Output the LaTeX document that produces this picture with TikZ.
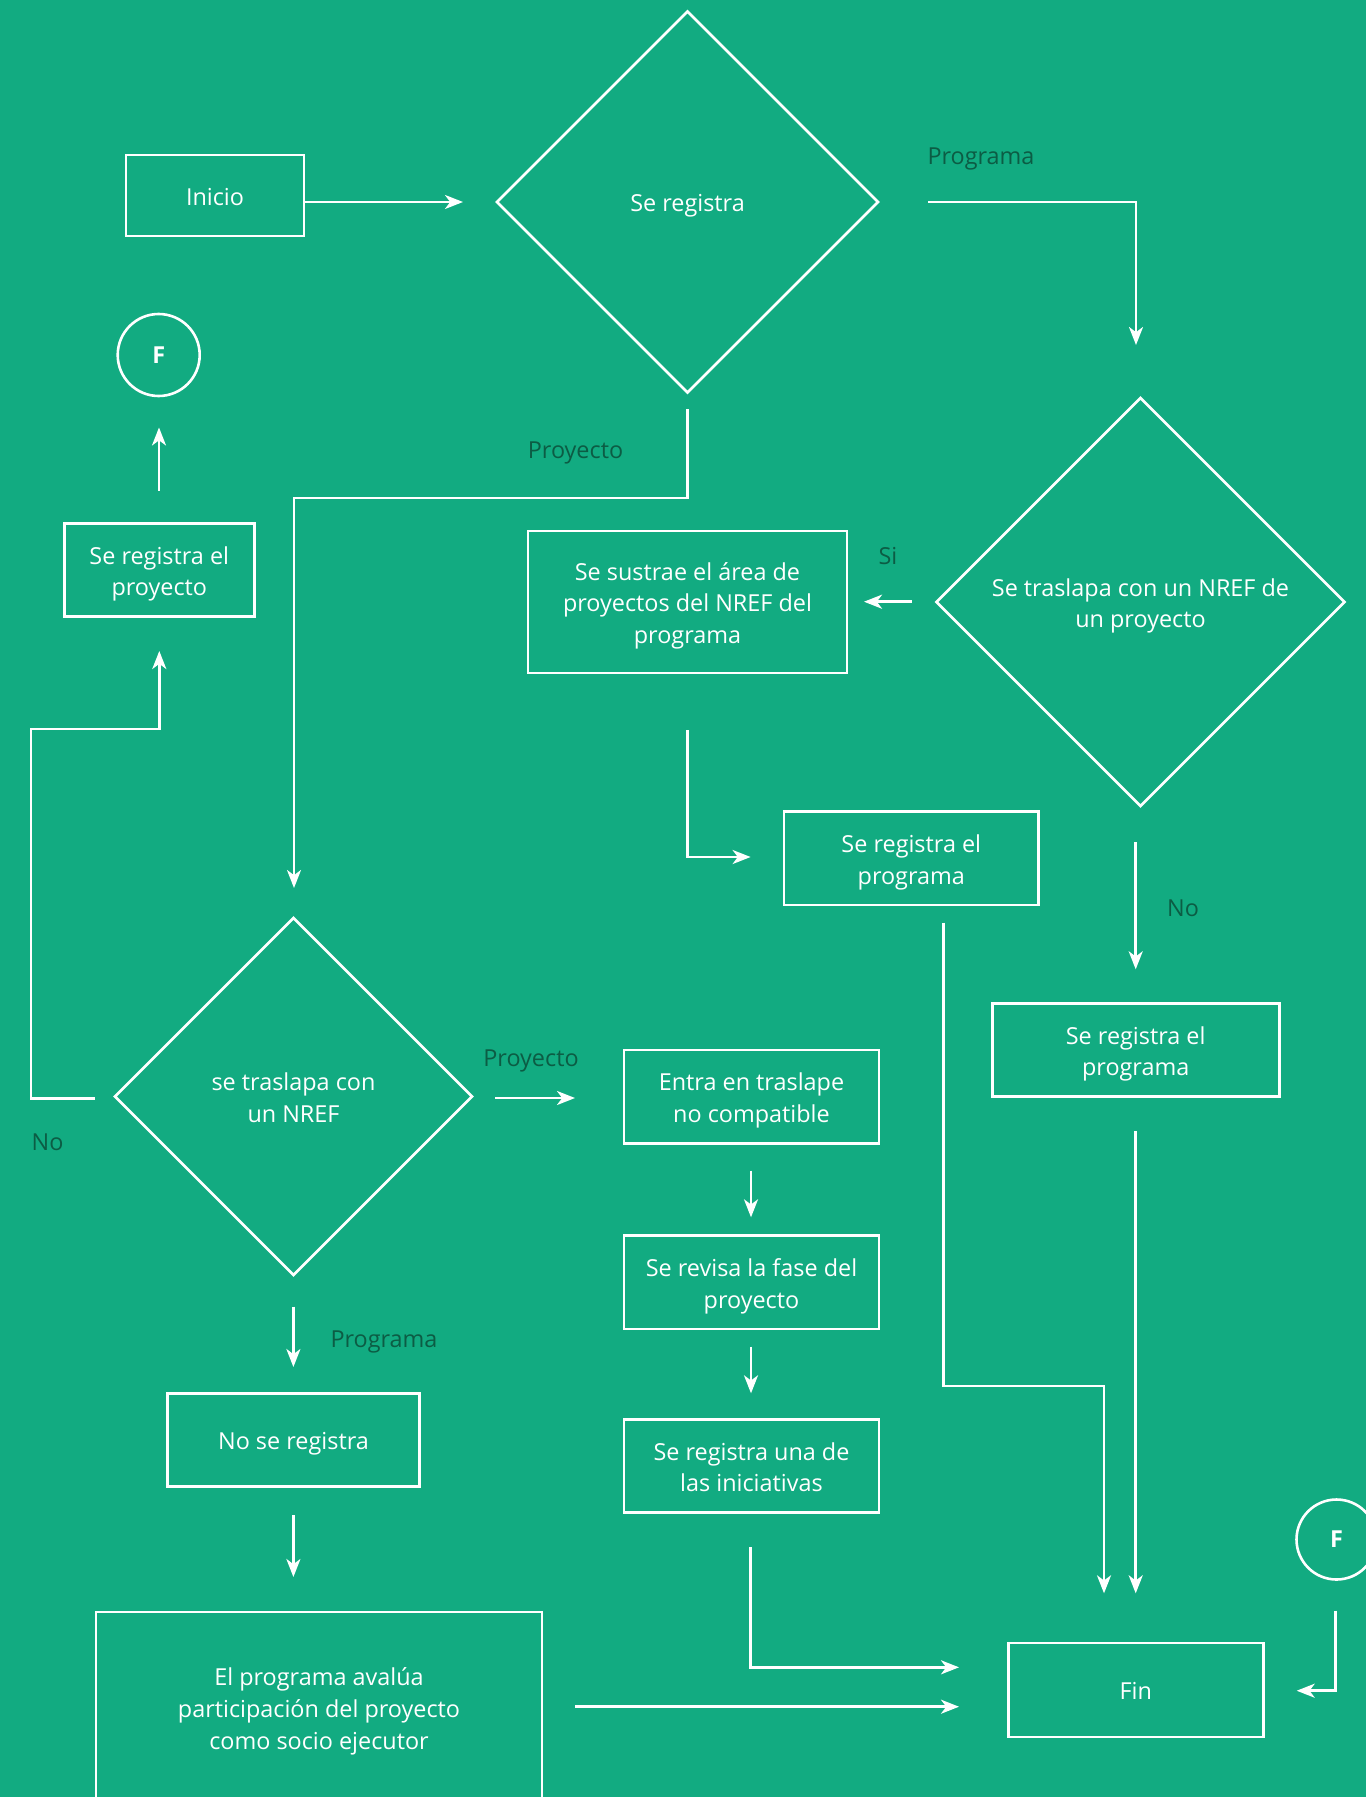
\documentclass[tikz,border=0pt]{standalone}
\usepackage{fontspec}
\setmainfont{Open Sans}
\usetikzlibrary{shapes.geometric,arrows.meta}
\definecolor{bg}{RGB}{18,171,129}
\definecolor{lbl}{RGB}{12,92,68}
\newcommand\hs{\rule{0pt}{13.1pt}}
\newcommand\ds{\rule[-3.2pt]{0pt}{3.2pt}}
\begin{document}
\begin{tikzpicture}[x=0.5pt,y=-0.5pt,
  every node/.style={font=\fontsize{11.7}{15.9}\selectfont, text=white},
  box/.style={draw=white, line width=1.3pt, align=center, inner sep=0pt},
  dia/.style={draw=white, line width=1.3pt, diamond, aspect=1, align=center, inner sep=0pt},
  circ/.style={draw=white, line width=1.3pt, circle, inner sep=0pt, font=\fontsize{11.7}{15.9}\selectfont\bfseries},
  lab/.style={text=lbl, inner sep=0pt},
  conn/.style={draw=white, line width=1.3pt},
  arr/.style={conn, -{Stealth[length=9pt,width=7pt,inset=2.6pt]}}
]
\useasboundingbox (0,0) rectangle (1366,1797);
\clip (0,0) rectangle (1366,1797);
\fill[bg] (0,0) rectangle (1366,1797);

% nodes
\node[box, minimum width=89pt, minimum height=40.5pt] (inicio) at (215,195.5) {\hs Inicio\ds};
\node[dia, minimum width=191pt, minimum height=191pt] (d1) at (687.5,202) {\hs Se registra\ds};
\node[dia, minimum width=204.5pt, minimum height=204.5pt] (d2) at (1140.5,602) {\hs Se traslapa con un NREF de\\un proyecto\ds};
\node[box, minimum width=159.5pt, minimum height=71pt] (sustrae) at (687.5,602) {\hs Se sustrae el área de\\proyectos del NREF del\\programa\ds};
\node[circ, minimum size=41pt] (f1) at (158.7,355) {F};
\node[box, minimum width=95pt, minimum height=46.5pt] (regproy) at (159.3,570) {\hs Se registra el\\proyecto\ds};
\node[box, minimum width=127.3pt, minimum height=46.7pt] (regprog1) at (911.3,858.3) {\hs Se registra el\\programa\ds};
\node[box, minimum width=143.5pt, minimum height=46.7pt] (regprog2) at (1135.7,1050) {\hs Se registra el\\programa\ds};
\node[dia, minimum width=179pt, minimum height=179pt] (d3) at (293.5,1096.5) {\hs se traslapa con\\un NREF\ds};
\node[box, minimum width=127.5pt, minimum height=46.7pt] (entra) at (751.5,1096.7) {\hs Entra en traslape\\no compatible\ds};
\node[box, minimum width=127.5pt, minimum height=46.7pt] (revisa) at (751.5,1282.3) {\hs Se revisa la fase del\\proyecto\ds};
\node[box, minimum width=127.5pt, minimum height=46.7pt] (una) at (751.5,1466) {\hs Se registra una de\\las iniciativas\ds};
\node[box, minimum width=126.2pt, minimum height=46.5pt] (noreg) at (293.5,1440) {\hs No se registra\ds};
\node[box, minimum width=223pt, minimum height=95.5pt] (avalua) at (319,1707.5) {\hs El programa avalúa\\participación del proyecto\\como socio ejecutor\ds};
\node[box, minimum width=127.5pt, minimum height=46.9pt] (fin) at (1135.8,1690) {\hs Fin\ds};
\node[circ, minimum size=40pt] (f2) at (1336.5,1539.5) {F};

% labels
\node[lab] (lprog1) at (981,155) {\hs Programa\ds};
\node[lab] (lproy1) at (575.5,449) {\hs Proyecto\ds};
\node[lab] (lsi) at (888,555) {\hs Si\ds};
\node[lab] (lno1) at (1183,906.7) {\hs No\ds};
\node[lab] (lno2) at (47.5,1140.7) {\hs No\ds};
\node[lab] (lproy2) at (531,1056.6) {\hs Proyecto\ds};
\node[lab] (lprog2) at (384,1337.4) {\hs Programa\ds};

% coordinates
\coordinate (c1s) at (304,202);
\coordinate (c1e) at (463,202);
\coordinate (c2s) at (928,202);
\coordinate (c2e) at (1136,345);
\coordinate (c3s) at (687.7,409);
\coordinate (c3m) at (294,498);
\coordinate (c3e) at (294,888);
\coordinate (c4s) at (911.7,601.7);
\coordinate (c4e) at (864,601.7);
\coordinate (c5s) at (687.6,730);
\coordinate (c5e) at (750.6,857);
\coordinate (c6s) at (1135.7,842.3);
\coordinate (c6e) at (1135.7,969.3);
\coordinate (c7s) at (1135.7,1131);
\coordinate (c7e) at (1135.7,1593.3);
\coordinate (c8s) at (943.3,922.7);
\coordinate (c8m) at (943.3,1386);
\coordinate (c8e) at (1104,1593.3);
\coordinate (c9s) at (1335.7,1610.7);
\coordinate (c9e) at (1296.7,1690.7);
\coordinate (c10s) at (95,1098.3);
\coordinate (c10a) at (31,1098.3);
\coordinate (c10b) at (31,729);
\coordinate (c10e) at (159.3,651);
\coordinate (c11s) at (159,490.5);
\coordinate (c11e) at (159,427.5);
\coordinate (c12s) at (495,1098);
\coordinate (c12e) at (575,1098);
\coordinate (c13s) at (751,1170.7);
\coordinate (c13e) at (751,1217.3);
\coordinate (c14s) at (751,1346.7);
\coordinate (c14e) at (751,1393.3);
\coordinate (c15s) at (750.6,1547);
\coordinate (c15e) at (959,1667.3);
\coordinate (c16s) at (575,1706.7);
\coordinate (c16e) at (959,1706.7);
\coordinate (c17s) at (293.4,1306.5);
\coordinate (c17e) at (293.4,1367);
\coordinate (c18s) at (293.4,1515);
\coordinate (c18e) at (293.4,1577);

% connectors
\draw[arr] (c1s) -- (c1e);
\draw[arr] (c2s) -| (c2e);
\draw[arr] (c3s) |- (c3m) -- (c3e);
\draw[arr] (c4s) -- (c4e);
\draw[arr] (c5s) |- (c5e);
\draw[arr] (c6s) -- (c6e);
\draw[arr] (c7s) -- (c7e);
\draw[arr] (c8s) -- (c8m) -| (c8e);
\draw[arr] (c9s) |- (c9e);
\draw[arr] (c10s) -- (c10a) -- (c10b) -| (c10e);
\draw[arr] (c11s) -- (c11e);
\draw[arr] (c12s) -- (c12e);
\draw[arr] (c13s) -- (c13e);
\draw[arr] (c14s) -- (c14e);
\draw[arr] (c15s) |- (c15e);
\draw[arr] (c16s) -- (c16e);
\draw[arr] (c17s) -- (c17e);
\draw[arr] (c18s) -- (c18e);
\end{tikzpicture}
\end{document}
